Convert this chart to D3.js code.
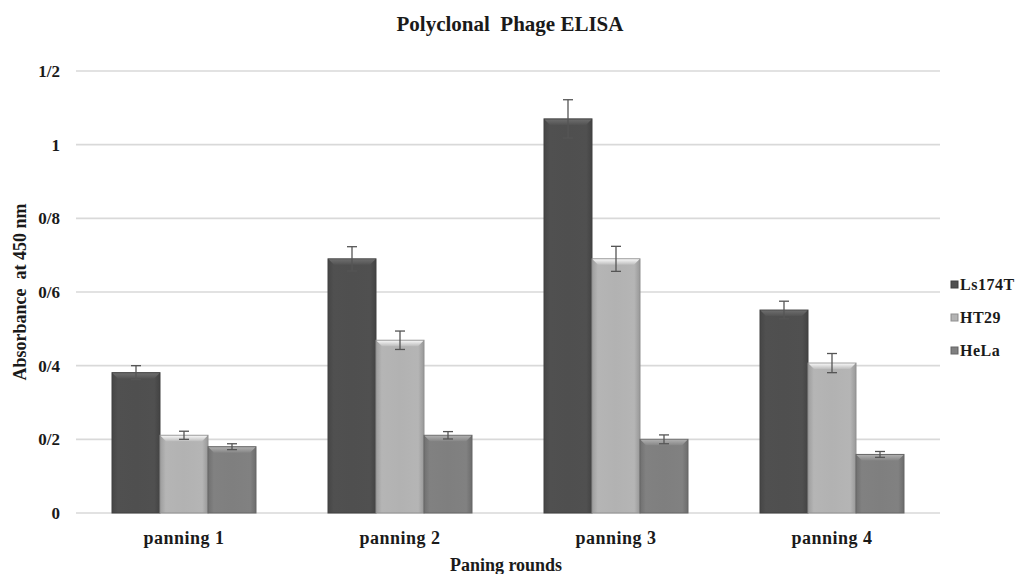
<!DOCTYPE html>
<html><head><meta charset="utf-8">
<script src="https://cdn.jsdelivr.net/npm/d3@7"></script>
<style>
body{margin:0;background:#fff;}
svg{display:block;}
text{font-family:"Liberation Serif","DejaVu Serif",serif;font-weight:bold;fill:#1a1a1a;}
</style></head>
<body><svg id="c" width="1026" height="574"></svg>
<script>
const categories = ["panning 1","panning 2","panning 3","panning 4"];
const seriesNames = ["Ls174T","HT29","HeLa"];
const ls174T = [0.381, 0.690, 1.070, 0.551];
const ht29   = [0.211, 0.469, 0.690, 0.407];
const hela   = [0.180, 0.211, 0.200, 0.159];
const ls174TErr = [0.019, 0.033, 0.052, 0.024];
const ht29Err   = [0.011, 0.025, 0.034, 0.026];
const helaErr   = [0.008, 0.010, 0.012, 0.008];
const yTicks = [0, 0.2, 0.4, 0.6, 0.8, 1.0, 1.2];
const yTickLabels = ["0","0/2","0/4","0/6","0/8","1","1/2"];

(function(){
const series = [
  {name: seriesNames[0], values: ls174T, err: ls174TErr, base: "#4f4f4f"},
  {name: seriesNames[1], values: ht29, err: ht29Err, base: "#b2b2b2"},
  {name: seriesNames[2], values: hela, err: helaErr, base: "#7f7f7f"}
];

const svg = d3.select("#c");
const pLeft = 76, pRight = 940, pTop = 71, pBottom = 513;
const x = d3.scaleBand().domain(categories).range([pLeft, pRight]).paddingInner(1/3).paddingOuter(1/6);
const xs = d3.scaleBand().domain(seriesNames).range([0, x.bandwidth()]);
const y = d3.scaleLinear().domain([0, 1.2]).range([pBottom, pTop]);

const defs = svg.append("defs");
series.forEach((s, i) => {
  const c = d3.color(s.base);
  const g = defs.append("linearGradient").attr("id", "g" + i).attr("x1", 0).attr("x2", 1).attr("y1", 0).attr("y2", 0);
  g.append("stop").attr("offset", "0%").attr("stop-color", c.darker(0.35));
  g.append("stop").attr("offset", "12%").attr("stop-color", c.brighter(0.05));
  g.append("stop").attr("offset", "50%").attr("stop-color", c);
  g.append("stop").attr("offset", "88%").attr("stop-color", c.brighter(0.05));
  g.append("stop").attr("offset", "100%").attr("stop-color", c.darker(0.45));
  const t = defs.append("linearGradient").attr("id", "t" + i).attr("x1", 0).attr("x2", 0).attr("y1", 0).attr("y2", 1);
  t.append("stop").attr("offset", "0%").attr("stop-color", c.brighter(0.9));
  t.append("stop").attr("offset", "100%").attr("stop-color", c.brighter(0.15));
});

svg.append("g").selectAll("line").data(yTicks).join("line")
  .attr("x1", pLeft).attr("x2", pRight)
  .attr("y1", d => y(d)).attr("y2", d => y(d))
  .attr("stroke", "#d9d9d9").attr("stroke-width", 1.6);

svg.append("g").selectAll("text").data(yTicks).join("text")
  .attr("x", 60).attr("y", d => y(d) + 6)
  .attr("text-anchor", "end").attr("font-size", 17)
  .text((d, i) => yTickLabels[i]);

const bevel = 6;
series.forEach((s, si) => {
  const g = svg.append("g");
  categories.forEach((cat, ci) => {
    const v = s.values[ci];
    const x0 = x(cat) + xs(s.name), w = xs.bandwidth();
    const y0 = y(v), h = y(0) - y(v);
    g.append("rect").attr("x", x0).attr("y", y0).attr("width", w).attr("height", h)
      .attr("fill", `url(#g${si})`).attr("stroke", d3.color(s.base).darker(0.6)).attr("stroke-width", 1);
    g.append("path")
      .attr("d", `M${x0+0.5},${y0+0.5} L${x0+w-0.5},${y0+0.5} L${x0+w-bevel},${y0+bevel} L${x0+bevel},${y0+bevel} Z`)
      .attr("fill", `url(#t${si})`);
  });
});

series.forEach((s, si) => {
  const g = svg.append("g").attr("stroke", "#555").attr("stroke-width", 1.3);
  categories.forEach((cat, ci) => {
    const cx = x(cat) + xs(s.name) + xs.bandwidth() / 2;
    const v = s.values[ci], e = s.err[ci];
    g.append("line").attr("x1", cx).attr("x2", cx).attr("y1", y(v + e)).attr("y2", y(v - e));
    g.append("line").attr("x1", cx - 5).attr("x2", cx + 5).attr("y1", y(v + e)).attr("y2", y(v + e));
    g.append("line").attr("x1", cx - 5).attr("x2", cx + 5).attr("y1", y(v - e)).attr("y2", y(v - e));
  });
});

svg.append("g").selectAll("text").data(categories).join("text")
  .attr("x", d => x(d) + x.bandwidth() / 2).attr("y", 544)
  .attr("text-anchor", "middle").attr("font-size", 18).attr("letter-spacing", 0.5).text(d => d);

svg.append("text").attr("x", 510).attr("y", 31).attr("text-anchor", "middle").attr("font-size", 21)
  .text("Polyclonal\u00a0 Phage ELISA");
svg.append("text").attr("x", 506).attr("y", 571).attr("text-anchor", "middle").attr("font-size", 18)
  .text("Paning rounds");
svg.append("text").attr("transform", "translate(26,292) rotate(-90)").attr("text-anchor", "middle").attr("font-size", 18)
  .text("Absorbance\u00a0 at 450 nm");

const lg = svg.append("g");
series.forEach((s, i) => {
  const ly = 285 + i * 33;
  lg.append("rect").attr("x", 951).attr("y", ly - 4).attr("width", 7).attr("height", 7)
    .attr("fill", `url(#g${i})`).attr("stroke", d3.color(s.base).darker(0.6));
  lg.append("text").attr("x", 960).attr("y", ly + 5).attr("font-size", 16).attr("letter-spacing", 0.5).text(s.name);
});
})();
</script></body></html>
